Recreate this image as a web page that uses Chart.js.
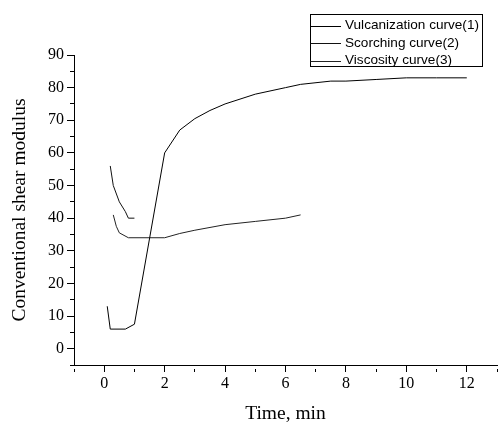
<!DOCTYPE html>
<html>
<head>
<meta charset="utf-8">
<script src="https://cdn.jsdelivr.net/npm/chart.js@4/dist/chart.umd.min.js"></script>
<style>
  html, body { margin: 0; padding: 0; background: #fff; }
  #chart { display: block; }
</style>
</head>
<body>
<canvas id="chart" width="499" height="422"></canvas>
<script>
// values
const seriesNames = ['Vulcanization curve(1)', 'Scorching curve(2)', 'Viscosity curve(3)'];

const vulcTime = [0.1, 0.2, 0.7, 1.0, 2.0, 2.5, 3.0, 3.5, 4.0, 5.0, 6.0, 6.5, 7.5, 8.0, 9.0, 10.0, 11.0, 12.0];
const vulcModulus = [13, 6, 6, 7.5, 60, 67, 70.5, 73, 75, 78, 80, 81, 82, 82, 82.5, 83, 83, 83];

const scorchTime = [0.2, 0.3, 0.5, 0.7, 0.8, 1.0];
const scorchModulus = [56, 50, 45, 42, 40, 40];

const viscTime = [0.3, 0.4, 0.5, 0.8, 1.5, 2.0, 2.5, 3.0, 4.0, 5.0, 6.0, 6.5];
const viscModulus = [41, 37.5, 35.5, 34, 34, 34, 35.3, 36.3, 38, 39, 40, 41];

const xMin = -1, xMax = 13, xLabelStep = 2;
const yMin = -5, yMax = 90, yLabelStep = 10;

const toPoints = (xs, ys) => xs.map((x, i) => ({ x: x, y: ys[i] }));

const serif = "'Liberation Serif', 'Times New Roman', serif";
const sans = "'Liberation Sans', Arial, sans-serif";

Chart.defaults.font.family = serif;
Chart.defaults.color = '#000';

// boxed legend drawn over the top right corner
const boxLegend = {
    id: 'boxLegend',
    afterDraw(chart) {
        const ctx = chart.ctx;
        const left = 310.5, top = 14.5, right = 482.5, bottom = 66.5;
        ctx.save();
        ctx.fillStyle = '#fff';
        ctx.fillRect(left, top, right - left, bottom - top);
        ctx.strokeStyle = '#000';
        ctx.lineWidth = 1;
        ctx.strokeRect(left, top, right - left, bottom - top);
        ctx.font = '13.6px ' + sans;
        ctx.textBaseline = 'middle';
        ctx.fillStyle = '#000';
        chart.data.datasets.forEach(function (ds, i) {
            const y = 25.5 + i * 17.5;
            ctx.strokeStyle = ds.borderColor;
            ctx.beginPath();
            ctx.moveTo(left, Math.round(y) + 0.5);
            ctx.lineTo(341, Math.round(y) + 0.5);
            ctx.stroke();
            ctx.fillText(ds.label, 345, y);
        });
        ctx.restore();
    }
};

const minorDash = (step) => (c) => (c.tick && Math.abs(c.tick.value % step) > 1e-6 ? [0, 3, 4, 100] : []);

new Chart(document.getElementById('chart').getContext('2d'), {
    type: 'line',
    data: {
        datasets: [
            { label: seriesNames[0], data: toPoints(vulcTime, vulcModulus), borderColor: '#000' },
            { label: seriesNames[1], data: toPoints(scorchTime, scorchModulus), borderColor: '#111' },
            { label: seriesNames[2], data: toPoints(viscTime, viscModulus), borderColor: '#222' }
        ]
    },
    options: {
        responsive: false,
        animation: false,
        devicePixelRatio: 1,
        layout: { padding: { top: 55, right: 1, left: 0, bottom: 0 } },
        elements: {
            line: { borderWidth: 1, tension: 0, fill: false },
            point: { radius: 0, hoverRadius: 0 }
        },
        plugins: { legend: { display: false }, tooltip: { enabled: false } },
        scales: {
            x: {
                type: 'linear',
                min: xMin,
                max: xMax,
                border: { color: '#000', width: 1 },
                grid: {
                    drawOnChartArea: false,
                    tickLength: 7,
                    tickColor: '#000',
                    tickBorderDash: minorDash(xLabelStep)
                },
                ticks: {
                    stepSize: 1,
                    color: '#000',
                    padding: 2,
                    maxRotation: 0,
                    autoSkip: false,
                    font: { family: serif, size: 16 },
                    callback: (v) => (v % xLabelStep === 0 ? String(v) : '')
                },
                title: {
                    display: true,
                    text: 'Time, min',
                    color: '#000',
                    padding: 0,
                    font: { family: serif, size: 19.5, lineHeight: 0.8 }
                },
                afterFit(scale) { scale.height = 57; }
            },
            y: {
                min: yMin,
                max: yMax,
                border: { color: '#000', width: 1 },
                grid: {
                    drawOnChartArea: false,
                    tickLength: 7,
                    tickColor: '#000',
                    tickBorderDash: minorDash(yLabelStep)
                },
                ticks: {
                    stepSize: 5,
                    color: '#000',
                    padding: 3,
                    autoSkip: false,
                    font: { family: serif, size: 16 },
                    callback: (v) => (v % yLabelStep === 0 ? String(v) : '')
                },
                title: {
                    display: true,
                    text: 'Conventional shear modulus',
                    color: '#000',
                    padding: { top: 8, bottom: 0 },
                    font: { family: serif, size: 19.5 }
                },
                afterFit(scale) { scale.width = 74; }
            }
        }
    },
    plugins: [boxLegend]
});
</script>
</body>
</html>
